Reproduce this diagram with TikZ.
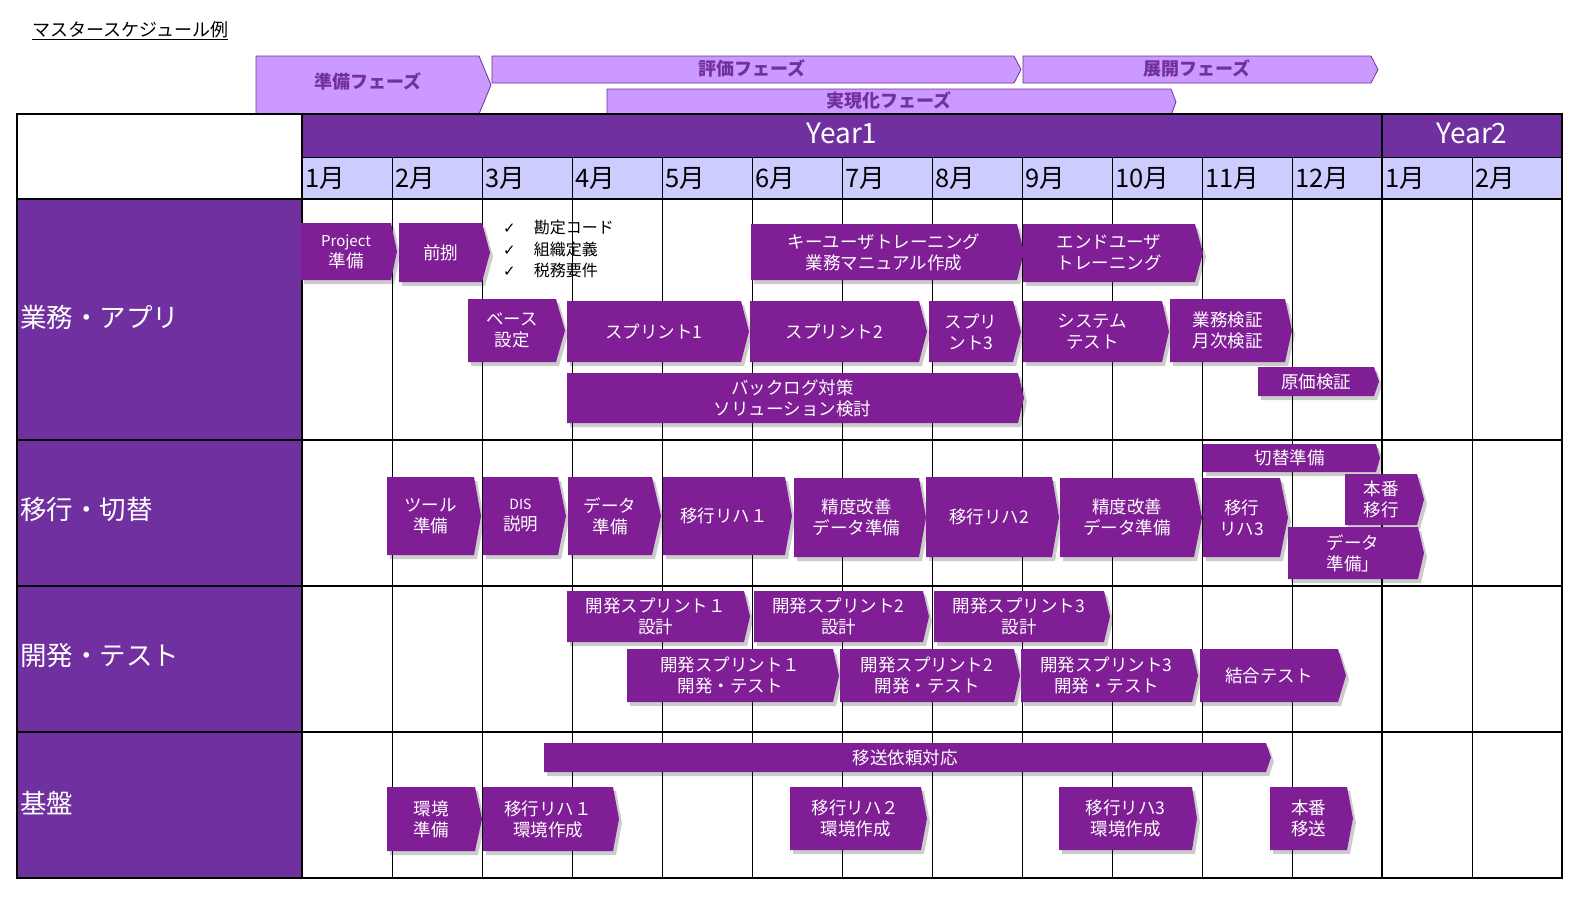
\documentclass[tikz,border=0pt]{standalone}
\usepackage{fontspec}
\setmainfont{Noto Sans CJK JP}
\newfontfamily\dejavu{DejaVu Sans}
\usetikzlibrary{shadows}
\definecolor{hdr}{RGB}{112,48,160}
\definecolor{taskc}{RGB}{128,30,150}
\definecolor{mon}{RGB}{204,204,255}
\definecolor{phasec}{RGB}{204,153,255}
\tikzset{
  taskfill/.style={fill=taskc, drop shadow={shadow xshift=3pt, shadow yshift=-4pt, opacity=0.2, fill=black}},
  tasktext/.style={text=white, align=center, font=\fontsize{17.5}{21}\selectfont, inner sep=0pt},
  phasebox/.style={fill=phasec, draw=hdr, line width=0.8pt},
  phasetext/.style={text=hdr, font=\bfseries\fontsize{18}{20}\selectfont, inner sep=0pt},
  monthtxt/.style={anchor=west, font=\fontsize{25.5}{28}\selectfont, inner sep=0pt},
  yeartxt/.style={text=white, font=\fontsize{28}{30}\selectfont, inner sep=0pt},
  lanetxt/.style={anchor=west, text=white, font=\fontsize{26.5}{30}\selectfont, inner sep=0pt},
  thin grid/.style={draw=black, line width=0.9pt},
  thick grid/.style={draw=black, line width=1.4pt},
}
% #1 tip depth, #2 name, #3 x1, #4 y1, #5 x tip, #6 y2, #7 text
\newcommand\taskshape[7][7]{%
  \fill[taskfill] (#3,#4) -- ({#5-#1},#4) -- (#5,{(#4+#6)/2}) -- ({#5-#1},#6) -- (#3,#6) -- cycle;
  \node[tasktext] (#2) at ({(#3+#5-#1)/2},{(#4+#6)/2}) {#7};
}
\begin{document}
\begin{tikzpicture}[x=1pt,y=-1pt]
\useasboundingbox (0,0) rectangle (1575,914);
\fill[white] (0,0) rectangle (1575,914);

% title
\node[anchor=west, inner sep=0pt, font=\fontsize{18}{20}\selectfont] (title) at (32,31) {\underline{マスタースケジュール例}};

% phases
\draw[phasebox] (256,56) -- (479,56) -- (491,85) -- (479,114) -- (256,114) -- cycle;
\node[phasetext] (ph1) at (368,82) {準備フェーズ};
\draw[phasebox] (492,56) -- (1014,56) -- (1021,69.5) -- (1014,83) -- (492,83) -- cycle;
\node[phasetext] (ph2) at (752,68) {評価フェーズ};
\draw[phasebox] (1023,56) -- (1371,56) -- (1378,69.5) -- (1371,83) -- (1023,83) -- cycle;
\node[phasetext] (ph3) at (1197,68) {展開フェーズ};
\draw[phasebox] (607,89) -- (1171,89) -- (1176,102) -- (1171,115) -- (607,115) -- cycle;
\node[phasetext] (ph4) at (889,101) {実現化フェーズ};

% table fills
\fill[white] (17,114) rectangle (302,199);
\fill[hdr] (302,114) rectangle (1562,157);
\fill[mon] (302,157) rectangle (1562,199);
\fill[hdr] (17,199) rectangle (302,878);

% grid
\foreach \i in {1,...,13} {
  \draw[thin grid] ({302+90*\i},157) -- ({302+90*\i},878);
}
\draw[thick grid] (302,114) -- (302,878);
\draw[thick grid] (1382,114) -- (1382,878);
\draw[thin grid] (302,157) -- (1562,157);
\draw[thick grid] (17,199) -- (1562,199);
\foreach \yy in {440,586,732} {
  \draw[thick grid] (17,\yy) -- (1562,\yy);
}
\draw[thick grid] (17,114) rectangle (1562,878);

% header text
\node[yeartxt] (y1) at (842,133) {Year1};
\node[yeartxt] (y2) at (1472,133) {Year2};
\foreach \m [count=\i from 0] in {1,2,3,4,5,6,7,8,9,10,11,12,1,2} {
  \node[monthtxt] (mo\i) at ({305+90*\i},178) {\m 月};
}

% lane labels
\node[lanetxt] (l1) at (20,317) {業務・アプリ};
\node[lanetxt] (l2) at (20,509) {移行・切替};
\node[lanetxt] (l3) at (20,656) {開発・テスト};
\node[lanetxt] (l4) at (20,803) {基盤};

% checklist
\node[anchor=west, align=left, inner sep=0pt, font=\fontsize{16}{21.5}\selectfont] (chk) at (503,249)
  {{\dejavu\fontsize{15}{21.5}\selectfont ✓}\hspace{18pt}勘定コード\\
   {\dejavu\fontsize{15}{21.5}\selectfont ✓}\hspace{18pt}組織定義\\
   {\dejavu\fontsize{15}{21.5}\selectfont ✓}\hspace{18pt}税務要件};

% row 1 tasks
\taskshape[6]{t1}{301}{223}{397}{280}{{\fontsize{15}{19}\selectfont Project}\\準備}
\taskshape[8]{t2}{399}{223}{490}{282}{前捌}
\taskshape[7]{t11}{751}{224}{1024}{280}{キーユーザトレーニング\\業務マニュアル作成}
\taskshape[8]{t12}{1023}{224}{1203}{282}{エンドユーザ\\トレーニング}
\taskshape[9]{t3}{468}{299}{565}{362}{ベース\\設定}
\taskshape[8]{t4}{567}{301}{749}{362}{スプリント1}
\taskshape[8]{t5}{750}{301}{927}{362}{スプリント2}
\taskshape[8]{t6}{929}{301}{1021}{362}{スプリ\\ント3}
\taskshape[7]{t7}{1023}{301}{1169}{362}{システム\\テスト}
\taskshape[7]{t8}{1170}{299}{1292}{362}{業務検証\\月次検証}
\taskshape[5]{t9}{1258}{367}{1379}{396}{原価検証}
\taskshape[6]{t10}{567}{373}{1024}{423}{バックログ対策\\ソリューション検討}

% row 2 tasks
\taskshape[4]{m9}{1203}{444}{1380}{472}{切替準備}
\taskshape[7]{m1}{387}{477}{481}{555}{ツール\\準備}
\taskshape[8]{m2}{483}{477}{566}{555}{{\fontsize{14}{19}\selectfont DIS}\\説明}
\taskshape[9]{m3}{568}{477}{661}{555}{データ\\準備}
\taskshape[7]{m4}{663}{477}{792}{555}{移行リハ１}
\taskshape[7]{m5}{794}{478}{926}{557}{精度改善\\データ準備}
\taskshape[7]{m6}{926}{477}{1059}{557}{移行リハ2}
\taskshape[8]{m7}{1060}{478}{1202}{557}{精度改善\\データ準備}
\taskshape[8]{m8}{1203}{478}{1288}{557}{移行\\リハ3}
\taskshape[7]{m10}{1345}{474}{1424}{525}{本番\\移行}
\taskshape[6]{m11}{1288}{527}{1424}{579}{データ\\準備」}

% row 3 tasks
\taskshape[6]{d1}{567}{591}{750}{642}{開発スプリント１\\設計}
\taskshape[6]{d2}{754}{591}{929}{642}{開発スプリント2\\設計}
\taskshape[6]{d3}{934}{591}{1110}{642}{開発スプリント3\\設計}
\taskshape[6]{d4}{627}{649}{839}{702}{開発スプリント１\\開発・テスト}
\taskshape[6]{d5}{840}{649}{1020}{702}{開発スプリント2\\開発・テスト}
\taskshape[6]{d6}{1021}{649}{1198}{702}{開発スプリント3\\開発・テスト}
\taskshape[8]{d7}{1200}{649}{1346}{702}{結合テスト}

% row 4 tasks
\taskshape[5]{b1}{544}{743}{1271}{772}{移送依頼対応}
\taskshape[7]{b2}{387}{787}{482}{851}{環境\\準備}
\taskshape[6]{b3}{483}{787}{619}{851}{移行リハ１\\環境作成}
\taskshape[6]{b4}{790}{787}{927}{850}{移行リハ２\\環境作成}
\taskshape[5]{b5}{1059}{787}{1197}{850}{移行リハ3\\環境作成}
\taskshape[6]{b6}{1270}{787}{1353}{850}{本番\\移送}
\end{tikzpicture}
\end{document}
